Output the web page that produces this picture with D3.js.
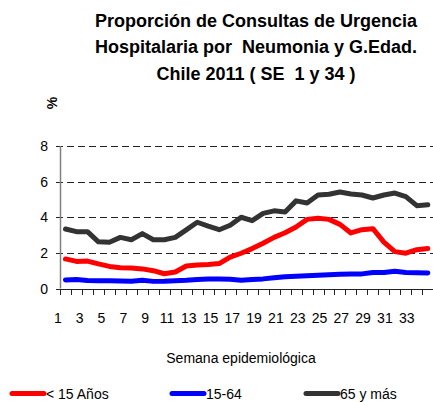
<!DOCTYPE html>
<html>
<head>
<meta charset="utf-8">
<script src="https://cdn.jsdelivr.net/npm/d3@7"></script>
<style>
  body { margin: 0; background: #fff; }
  svg { display: block; font-family: "Liberation Sans", Arial, sans-serif; }
</style>
</head>
<body>
<div id="chart"></div>
<script>
// semanas epidemiologicas 1..34
var weeks = d3.range(1, 35);
var yTicks = [0, 2, 4, 6, 8];

// % de consultas por neumonia segun grupo de edad
var menores15 = [1.66, 1.52, 1.54, 1.38, 1.24, 1.17, 1.15, 1.10, 1.00, 0.83,
                 0.93, 1.26, 1.32, 1.35, 1.40, 1.76, 1.98, 2.24, 2.54, 2.87,
                 3.13, 3.45, 3.88, 3.95, 3.88, 3.60, 3.12, 3.30, 3.36, 2.60,
                 2.07, 1.98, 2.18, 2.24];
var adultos = [0.48, 0.50, 0.45, 0.43, 0.43, 0.42, 0.41, 0.46, 0.40, 0.41,
               0.44, 0.46, 0.50, 0.53, 0.53, 0.52, 0.46, 0.50, 0.54, 0.60,
               0.66, 0.69, 0.71, 0.74, 0.77, 0.80, 0.81, 0.82, 0.90, 0.90,
               0.97, 0.90, 0.89, 0.87];
var mayores65 = [3.34, 3.19, 3.19, 2.62, 2.60, 2.87, 2.74, 3.08, 2.74, 2.74,
                 2.87, 3.29, 3.72, 3.50, 3.30, 3.55, 4.00, 3.81, 4.22, 4.36,
                 4.30, 4.92, 4.80, 5.25, 5.29, 5.42, 5.31, 5.25, 5.08, 5.25,
                 5.36, 5.16, 4.65, 4.70];

var series = [
    {name: "< 15 Años", values: menores15, color: "#ff0000"},
    {name: "15-64", values: adultos, color: "#0000ff"},
    {name: "65 y más", values: mayores65, color: "#333333"}
];

var width = 433, height = 402;
var margin = {top: 146, right: 0, bottom: 113, left: 60};

var svg = d3.select("#chart").append("svg")
    .attr("width", width)
    .attr("height", height);

var x = d3.scaleBand()
    .domain(weeks)
    .range([margin.left, 433.3]);

var y = d3.scaleLinear()
    .domain([0, 8])
    .range([288.5, margin.top]);

// titulo
var title = ["Proporción de Consultas de Urgencia",
             "Hospitalaria por  Neumonia y G.Edad.",
             "Chile 2011 ( SE  1 y 34 )"];
svg.append("g").selectAll("text")
    .data(title)
    .enter().append("text")
    .attr("x", 256)
    .attr("y", function(d, i) { return 26.5 + i * 26.8; })
    .attr("text-anchor", "middle")
    .style("font-weight", "bold")
    .style("font-size", "18px")
    .style("white-space", "pre")
    .text(function(d) { return d; });

// eje y
svg.append("text")
    .attr("transform", "translate(57,103) rotate(-90)")
    .attr("text-anchor", "middle")
    .style("font-weight", "bold")
    .style("font-size", "14px")
    .text("%");

// grilla
svg.append("g").selectAll("line")
    .data(yTicks.filter(function(d) { return d > 0; }))
    .enter().append("line")
    .attr("x1", 56)
    .attr("x2", width)
    .attr("y1", function(d) { return Math.round(y(d)) + 0.5; })
    .attr("y2", function(d) { return Math.round(y(d)) + 0.5; })
    .attr("stroke", "#222")
    .attr("stroke-dasharray", "7,4");

svg.append("g").selectAll("text")
    .data(yTicks)
    .enter().append("text")
    .attr("x", 48)
    .attr("y", function(d) { return y(d); })
    .attr("dy", "0.36em")
    .attr("text-anchor", "end")
    .style("font-size", "14px")
    .text(function(d) { return d; });

svg.append("line")
    .attr("x1", 60.5).attr("x2", 60.5)
    .attr("y1", y(8)).attr("y2", y(0))
    .attr("stroke", "#808080")
    .attr("stroke-width", 1.5);

svg.append("line")
    .attr("x1", 56).attr("x2", 60)
    .attr("y1", Math.round(y(0)) + 0.5).attr("y2", Math.round(y(0)) + 0.5)
    .attr("stroke", "#222");

// eje x
svg.append("line")
    .attr("x1", margin.left).attr("x2", width)
    .attr("y1", Math.round(y(0)) + 0.5).attr("y2", Math.round(y(0)) + 0.5)
    .attr("stroke", "#222");

svg.append("g").selectAll("line")
    .data(weeks)
    .enter().append("line")
    .attr("x1", function(d) { return Math.round(x(d)) + 0.5; })
    .attr("x2", function(d) { return Math.round(x(d)) + 0.5; })
    .attr("y1", Math.round(y(0)))
    .attr("y2", Math.round(y(0)) + 6)
    .attr("stroke", "#222");

svg.append("g").selectAll("text")
    .data(weeks.filter(function(d) { return d % 2 == 1; }))
    .enter().append("text")
    .attr("x", function(d) { return x(d) - 2 - d * 0.08; })
    .attr("y", 323)
    .attr("text-anchor", "middle")
    .style("font-size", "14px")
    .text(function(d) { return d; });

svg.append("text")
    .attr("x", 241)
    .attr("y", 363)
    .attr("text-anchor", "middle")
    .style("font-size", "14px")
    .text("Semana epidemiológica");

// lineas
var line = d3.line()
    .x(function(d, i) { return x(weeks[i]) + x.bandwidth() / 2; })
    .y(function(d) { return y(d); });

svg.append("g").selectAll("path")
    .data(series)
    .enter().append("path")
    .attr("d", function(d) { return line(d.values); })
    .attr("fill", "none")
    .attr("stroke", function(d) { return d.color; })
    .attr("stroke-width", 5)
    .attr("stroke-linejoin", "round")
    .attr("stroke-linecap", "round");

// leyenda
var legendX = [12, 172, 306];
var legend = svg.append("g").selectAll("g")
    .data(series)
    .enter().append("g")
    .attr("transform", function(d, i) { return "translate(" + legendX[i] + ",393.5)"; });

legend.append("line")
    .attr("x1", 0).attr("x2", 32)
    .attr("stroke", function(d) { return d.color; })
    .attr("stroke-width", 5)
    .attr("stroke-linecap", "round");

legend.append("text")
    .attr("x", 34)
    .attr("y", 5.5)
    .style("font-size", "14px")
    .text(function(d) { return d.name; });
</script>
</body>
</html>
